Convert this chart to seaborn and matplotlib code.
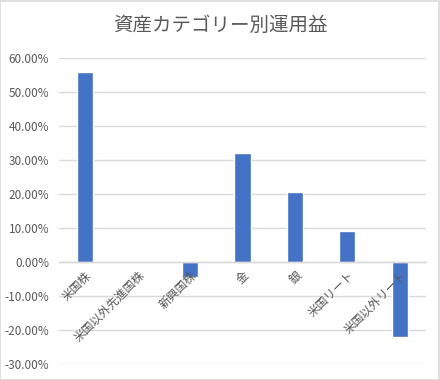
import matplotlib
matplotlib.use("Agg")
import matplotlib.pyplot as plt
import matplotlib.patches as patches
from matplotlib.ticker import PercentFormatter, MultipleLocator
import seaborn as sns
import pandas as pd

# data
categories = ["米国株", "米国以外先進国株", "新興国株", "金", "銀", "米国リート", "米国以外リート"]
returns = [0.56, 0.0, -0.043, 0.321, 0.207, 0.092, -0.219]

df = pd.DataFrame({"category": categories, "return": returns})

sns.set_theme(style="white")
plt.rcParams["font.family"] = ["Noto Sans CJK JP", "DejaVu Sans"]
plt.rcParams["axes.unicode_minus"] = False

grey_text = "#595959"
grid_col = "#D9D9D9"

fig = plt.figure(figsize=(4.4, 3.8), dpi=100)
ax = fig.add_axes([0.134, 0.042, 0.834, 0.805])

sns.barplot(data=df, x="category", y="return", color="#4472C4",
            saturation=1, width=0.31, ax=ax)

ax.set_ylim(-0.3, 0.6)
ax.yaxis.set_major_locator(MultipleLocator(0.1))
ax.yaxis.set_major_formatter(PercentFormatter(1.0, decimals=2))
ax.grid(axis="y", color=grid_col, linewidth=1)
ax.set_axisbelow(True)
# category labels are drawn over the bars, grid stays behind
ax.xaxis.set_zorder(3)

# category axis sits on the zero line, like Excel
for side in ["left", "right", "top"]:
    ax.spines[side].set_visible(False)
ax.spines["bottom"].set_position(("data", 0))
ax.spines["bottom"].set_color(grid_col)
ax.spines["bottom"].set_linewidth(1)

ax.tick_params(axis="y", length=0, colors=grey_text, labelsize=8.5, pad=7)
ax.tick_params(axis="x", length=0, colors=grey_text, labelsize=8.5, pad=5)
plt.setp(ax.get_xticklabels(), rotation=45, ha="right", rotation_mode="anchor")
ax.set_xlabel("")
ax.set_ylabel("")

fig.text(0.5, 0.934, "資産カテゴリー別運用益", ha="center", va="center",
         fontsize=14, color=grey_text)

# chart border
fig.patches.append(patches.Rectangle((0.001, 0.001), 0.997, 0.997, transform=fig.transFigure,
                                     fill=False, edgecolor=grid_col, linewidth=1.2))

fig.savefig("out.png", dpi=100)
